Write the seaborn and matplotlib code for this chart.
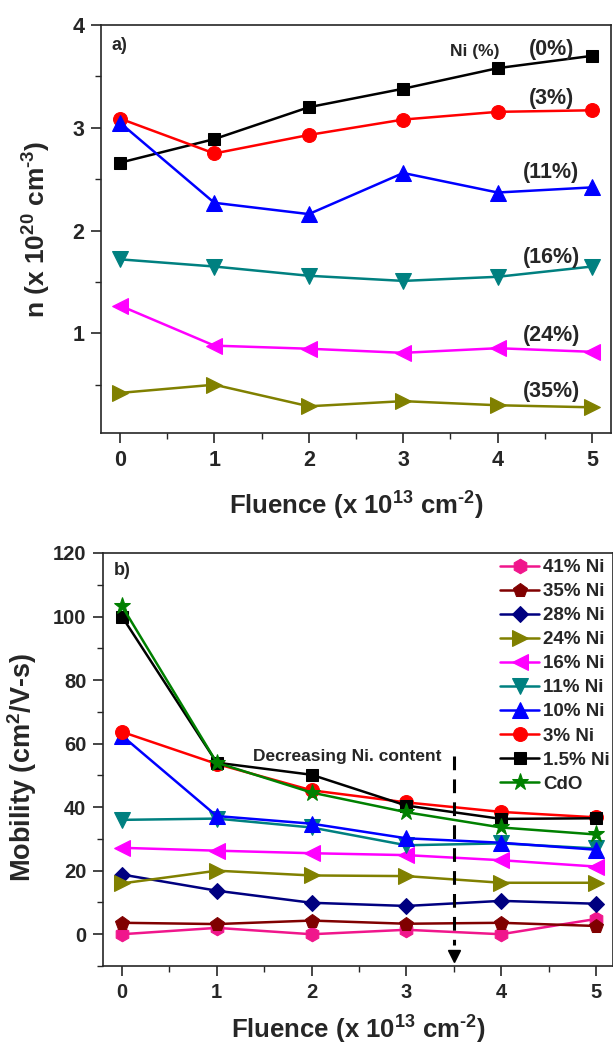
import matplotlib
matplotlib.use("Agg")
import matplotlib.pyplot as plt
import seaborn as sns
from matplotlib.ticker import MultipleLocator

sns.set_style("ticks")
plt.rcParams['font.family'] = ['Liberation Sans', 'DejaVu Sans']
plt.rcParams['font.weight'] = 'bold'
plt.rcParams['mathtext.fontset'] = 'custom'
plt.rcParams['mathtext.rm'] = 'Liberation Sans:bold'
plt.rcParams['mathtext.bf'] = 'Liberation Sans:bold'
plt.rcParams['mathtext.default'] = 'bf'

# Data
fluence = [0, 1, 2, 3, 4, 5]

# panel a) carrier concentration (x 1e20 cm^-3)
n_labels = ["(0%)", "(3%)", "(11%)", "(16%)", "(24%)", "(35%)"]
n_0 = [2.66, 2.89, 3.20, 3.38, 3.58, 3.70]
n_3 = [3.09, 2.75, 2.93, 3.08, 3.155, 3.17]
n_11 = [3.05, 2.27, 2.16, 2.56, 2.37, 2.42]
n_16 = [1.72, 1.65, 1.56, 1.51, 1.55, 1.65]
n_24 = [1.27, 0.88, 0.85, 0.81, 0.855, 0.82]
n_35 = [0.42, 0.50, 0.29, 0.34, 0.30, 0.28]
n_label_y = [3.76, 3.28, 2.56, 1.74, 0.98, 0.43]

# panel b) mobility (cm^2/V-s)
mu_labels = ["41% Ni", "35% Ni", "28% Ni", "24% Ni", "16% Ni",
             "11% Ni", "10% Ni", "3% Ni", "1.5% Ni", "CdO"]
mu_41 = [0.0, 2.0, 0.0, 1.4, 0.0, 4.8]
mu_35 = [3.6, 3.2, 4.3, 3.3, 3.6, 2.6]
mu_28 = [18.8, 13.7, 9.9, 8.9, 10.5, 9.6]
mu_24 = [16.0, 20.0, 18.5, 18.3, 16.2, 16.2]
mu_16 = [27.2, 26.3, 25.5, 24.9, 23.3, 21.3]
mu_11 = [36.0, 36.4, 33.6, 28.0, 28.6, 27.0]
mu_10 = [62.5, 37.2, 34.8, 30.2, 28.8, 26.6]
mu_3 = [63.7, 53.6, 45.3, 41.5, 38.5, 36.8]
mu_15 = [100.0, 54.0, 50.2, 40.5, 36.3, 36.5]
mu_cdo = [103.3, 54.0, 44.6, 38.4, 33.6, 31.4]

# arrow marking "decreasing Ni content"
arrow_x = 3.5
arrow_top = 56
arrow_bottom = -3.5
arrow_tip = -6.8

fig = plt.figure(figsize=(6.13, 10.44), dpi=100)
W, H = 613, 1044
ax1 = fig.add_axes([101 / W, 1 - 433 / H, 510 / W, 408 / H])
ax2 = fig.add_axes([103 / W, 1 - 966 / H, 510 / W, 413 / H])

xlab = r"Fluence (x 10$^{13}$ cm$^{\text{-}2}$)"

# ---- panel a)
top_series = [
    (n_0, "black", "s", 9),
    (n_3, "red", "o", 10),
    (n_11, "blue", "^", 11.5),
    (n_16, "#008080", "v", 11.5),
    (n_24, "magenta", "<", 11.5),
    (n_35, "#808000", ">", 11.5),
]
for vals, col, mk, ms in top_series:
    sns.lineplot(x=fluence, y=vals, ax=ax1, color=col, marker=mk, markersize=ms,
                 markeredgecolor=col, linewidth=1.8)

for lab, yy in zip(n_labels, n_label_y):
    ax1.text(4.57, yy, lab, fontsize=15.5, fontweight='bold', ha='center', va='center')
ax1.text(3.76, 3.74, "Ni (%)", fontsize=12.5, fontweight='bold', ha='center', va='center')
ax1.text(-0.09, 3.8, "a)", fontsize=13, fontweight='bold', ha='left', va='center')

ax1.set_xlim(-0.2, 5.2)
ax1.set_ylim(0.03, 4)
ax1.yaxis.set_major_locator(MultipleLocator(1))
ax1.yaxis.set_minor_locator(MultipleLocator(0.5))
ax1.set_xlabel(xlab, fontsize=18.5, fontweight='bold')
ax1.set_ylabel(r"n (x 10$^{20}$ cm$^{\text{-}3}$)", fontsize=19, fontweight='bold')
ax1.xaxis.set_label_coords(0.5, -0.14)
ax1.yaxis.set_label_coords(-0.095, 0.5)

# ---- panel b)
bottom_series = [
    (mu_41, "#f0168c", "h", 10.5),
    (mu_35, "#800000", "p", 10.5),
    (mu_28, "#000080", "D", 8.5),
    (mu_24, "#808000", ">", 11.5),
    (mu_16, "magenta", "<", 11.5),
    (mu_11, "#008080", "v", 11.5),
    (mu_10, "blue", "^", 11.5),
    (mu_3, "red", "o", 10),
    (mu_15, "black", "s", 9),
    (mu_cdo, "green", "*", 12.5),
]
for (vals, col, mk, ms), lab in zip(bottom_series, mu_labels):
    sns.lineplot(x=fluence, y=vals, ax=ax2, color=col, marker=mk, markersize=ms,
                 markeredgecolor=col, linewidth=1.8, label=lab, legend=False)

ax2.plot([arrow_x, arrow_x], [arrow_top, arrow_bottom], color="black",
         linewidth=2.2, linestyle=(0, (4.5, 3)))
ax2.plot([arrow_x], [arrow_tip], marker="v", markersize=8, color="black")
ax2.text(1.38, 56, "Decreasing Ni. content", fontsize=12.5, fontweight='bold',
         ha='left', va='center')
ax2.text(-0.09, 114.5, "b)", fontsize=13, fontweight='bold', ha='left', va='center')

ax2.set_xlim(-0.2, 5.18)
ax2.set_ylim(-10, 120)
ax2.yaxis.set_major_locator(MultipleLocator(20))
ax2.yaxis.set_minor_locator(MultipleLocator(10))
ax2.set_xlabel(xlab, fontsize=18.5, fontweight='bold')
ax2.set_ylabel(r"Mobility (cm$^{2}$/V-s)", fontsize=19.5, fontweight='bold')
ax2.xaxis.set_label_coords(0.5, -0.115)
ax2.yaxis.set_label_coords(-0.125, 0.48)

handles, labels = ax2.get_legend_handles_labels()
fig.legend(handles, labels, loc='upper left', bbox_to_anchor=(500 / W, 1 - 559 / H),
           frameon=False, borderpad=0, borderaxespad=0,
           handlelength=2.1, handletextpad=0.2, labelspacing=0.37,
           prop={'weight': 'bold', 'size': 13.5})

for ax, fs in ((ax1, 15.5), (ax2, 14.5)):
    ax.xaxis.set_major_locator(MultipleLocator(1))
    ax.xaxis.set_minor_locator(MultipleLocator(0.5))
    ax.tick_params(which='major', direction='out', length=7, width=1.2,
                   labelsize=fs, pad=5)
    ax.tick_params(which='minor', direction='out', length=4, width=1.0)
    for t in ax.get_xticklabels() + ax.get_yticklabels():
        t.set_fontweight('bold')
    for sp in ax.spines.values():
        sp.set_linewidth(1.2)
        sp.set_visible(True)

fig.savefig("out.png", dpi=100)
